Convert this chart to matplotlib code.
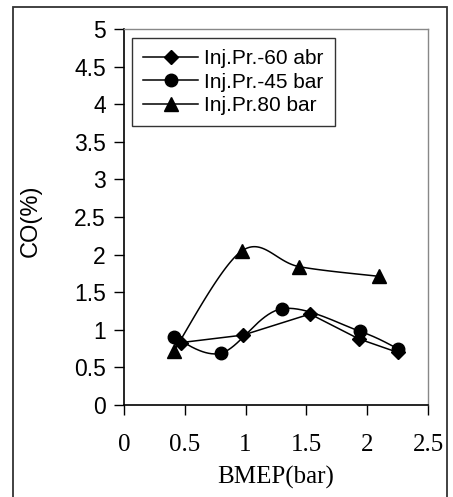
import numpy as np
import matplotlib
matplotlib.use("Agg")
import matplotlib.pyplot as plt
from matplotlib.patches import Rectangle
from matplotlib.lines import Line2D

# Data
x60 = [0.47, 0.98, 1.53, 1.93, 2.25]
y60 = [0.83, 0.93, 1.21, 0.88, 0.70]
x45 = [0.41, 0.80, 1.30, 1.94, 2.25]
y45 = [0.90, 0.69, 1.28, 0.98, 0.75]
x80 = [0.41, 0.97, 1.44, 2.10]
y80 = [0.72, 2.05, 1.84, 1.71]
labels = ["Inj.Pr.-60 abr", "Inj.Pr.-45 bar", "Inj.Pr.80 bar"]
xticks = [0, 0.5, 1, 1.5, 2, 2.5]
yticks = [0, 0.5, 1, 1.5, 2, 2.5, 3, 3.5, 4, 4.5, 5]


def smooth(xs, ys, n=40):
    P = np.column_stack([xs, ys]).astype(float)
    m = len(P)
    out = [P[0]]
    for i in range(m - 1):
        p0 = P[i - 1] if i > 0 else P[i]
        p1 = P[i]
        p2 = P[i + 1]
        p3 = P[i + 2] if i + 2 < m else P[i + 1]
        c1 = p1 + (p2 - p0) / 6.0
        c2 = p2 - (p3 - p1) / 6.0
        t = np.linspace(0, 1, n)[1:, None]
        seg = ((1 - t) ** 3) * p1 + 3 * ((1 - t) ** 2) * t * c1 + 3 * (1 - t) * t ** 2 * c2 + t ** 3 * p2
        out.extend(seg)
    out = np.array(out)
    return out[:, 0], out[:, 1]


W, H = 453, 497
fig = plt.figure(figsize=(W / 100, H / 100), dpi=100)
fig.patch.set_facecolor("white")

# outer frame
fig.patches.append(Rectangle((13 / W, -0.05), (447 - 13) / W, 1.05 - 7 / H,
                             transform=fig.transFigure, fill=False,
                             edgecolor="#333333", linewidth=1.3))

ax = fig.add_axes([124 / W, (H - 405) / H, 304 / W, 376 / H])

lw = 1.1
ax.plot(x60, y60, color="black", lw=lw)
ax.plot(x60, y60, linestyle="none", marker="D", ms=7, color="black")
sx, sy = smooth(x45, y45)
ax.plot(sx, sy, color="black", lw=lw)
ax.plot(x45, y45, linestyle="none", marker="o", ms=9, color="black")
sx, sy = smooth(x80, y80)
ax.plot(sx, sy, color="black", lw=lw)
ax.plot(x80, y80, linestyle="none", marker="^", ms=10, color="black")

handles = [
    Line2D([], [], color="black", lw=lw, marker="D", ms=7),
    Line2D([], [], color="black", lw=lw, marker="o", ms=9),
    Line2D([], [], color="black", lw=lw, marker="^", ms=10),
]
leg = ax.legend(handles, labels, loc="upper left", bbox_to_anchor=(8 / 304, 1 - 9 / 376),
                frameon=True, fancybox=False, edgecolor="#333333", framealpha=1,
                prop={"family": "Liberation Sans", "size": 15},
                handlelength=2.6, handletextpad=0.3, labelspacing=0.2,
                borderpad=0.55, borderaxespad=0)
leg.get_frame().set_linewidth(1.0)

ax.set_xlim(0, 2.5)
ax.set_ylim(0, 5)
ax.set_xticks(xticks)
ax.set_xticklabels([f"{v:g}" for v in xticks], fontfamily="Liberation Serif", fontsize=18)
ax.set_yticks(yticks)
ax.set_yticklabels([f"{v:g}" for v in yticks], fontfamily="Liberation Sans", fontsize=16.5)
ax.tick_params(axis="both", direction="out", length=7, width=1, color="black")
ax.tick_params(axis="x", pad=14)
ax.tick_params(axis="y", pad=6)

for s in ["top", "right"]:
    ax.spines[s].set_color("#888888")
    ax.spines[s].set_linewidth(1.0)
for s in ["left", "bottom"]:
    ax.spines[s].set_color("black")
    ax.spines[s].set_linewidth(1.2)

ax.set_xlabel("BMEP(bar)", fontfamily="Liberation Serif", fontsize=18, va="center")
ax.xaxis.set_label_coords(0.5, (405 - 477) / 376)
ax.set_ylabel("CO(%)", fontfamily="Liberation Sans", fontsize=17, va="center")
ax.yaxis.set_label_coords((31 - 124) / 304, 0.49)

fig.savefig("out.png", dpi=100)
